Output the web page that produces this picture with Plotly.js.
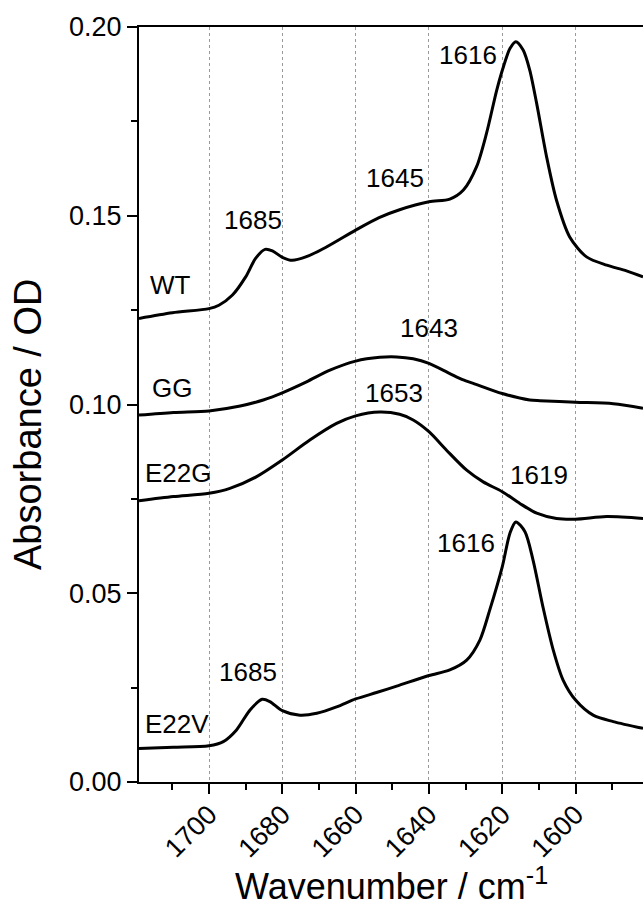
<!DOCTYPE html>
<html>
<head>
<meta charset="utf-8">
<script src="https://cdn.plot.ly/plotly-3.0.1.min.js"></script>
<style>html,body{margin:0;padding:0;background:#fff;}#chart{width:643px;height:906px;}</style>
</head>
<body>
<div id="chart"></div>
<script>
// Wavenumber (cm^-1) and absorbance (OD)
var wtX = [1719.1, 1710, 1700, 1697.3, 1693.6, 1690, 1687.3, 1684.7, 1682.7, 1680, 1677.3, 1673.6, 1668.2, 1660, 1653.6, 1648, 1640, 1634.3, 1630.6, 1627, 1624.3, 1621.5, 1619.7, 1617.9, 1616.3, 1614.3, 1612.5, 1610.6, 1607.9, 1605.2, 1601.6, 1597, 1591.5, 1586.1, 1581.6];
var wtY = [0.1228, 0.1243, 0.1254, 0.1263, 0.1290, 0.1338, 0.1387, 0.1411, 0.1407, 0.1390, 0.1382, 0.1391, 0.1416, 0.1462, 0.1495, 0.1516, 0.1537, 0.1544, 0.1568, 0.1630, 0.1718, 0.1833, 0.1894, 0.1943, 0.1961, 0.1939, 0.1886, 0.1797, 0.1656, 0.1541, 0.1444, 0.1391, 0.1369, 0.1354, 0.1338];

var ggX = [1719.1, 1709.7, 1700, 1691.5, 1685.2, 1680, 1673.4, 1667, 1660, 1653.4, 1648.8, 1644.3, 1640, 1634.3, 1630.6, 1627.9, 1620, 1612.5, 1609.7, 1600, 1589.7, 1581.6];
var ggY = [0.0972, 0.0979, 0.0983, 0.0996, 0.1012, 0.1031, 0.1060, 0.1091, 0.1115, 0.1125, 0.1126, 0.1121, 0.1109, 0.1082, 0.1065, 0.1056, 0.1029, 0.1012, 0.1010, 0.1006, 0.1002, 0.0990];

var e22gX = [1719.1, 1709.7, 1700, 1694.3, 1687, 1680, 1672.5, 1665.2, 1660, 1653.4, 1648, 1644.3, 1640, 1635.2, 1629.7, 1625.2, 1620, 1615.2, 1610.6, 1605.2, 1600, 1591.5, 1581.6];
var e22gY = [0.0745, 0.0756, 0.0765, 0.0778, 0.0809, 0.0853, 0.0906, 0.0950, 0.0970, 0.0980, 0.0974, 0.0959, 0.0928, 0.0879, 0.0826, 0.0795, 0.0769, 0.0738, 0.0712, 0.0698, 0.0696, 0.0703, 0.0698];

var e22vX = [1719.1, 1709.7, 1700, 1696.1, 1692.5, 1688.8, 1685.5, 1683.4, 1680, 1675.2, 1670.6, 1665.2, 1660, 1654.3, 1648.8, 1640, 1634.3, 1629.7, 1626.1, 1623.4, 1620, 1617.9, 1616.3, 1613.8, 1611.6, 1608.9, 1606.1, 1603.4, 1600, 1595.2, 1589.7, 1581.6];
var e22vY = [0.0089, 0.0092, 0.0096, 0.0107, 0.0138, 0.0191, 0.0219, 0.0213, 0.0189, 0.0177, 0.0182, 0.0199, 0.0220, 0.0237, 0.0254, 0.0282, 0.0297, 0.0323, 0.0376, 0.0456, 0.0570, 0.0659, 0.0689, 0.0663, 0.0588, 0.0464, 0.0350, 0.0270, 0.0217, 0.0177, 0.0160, 0.0142];

var xTickVals = [1700, 1680, 1660, 1640, 1620, 1600];
var yTickVals = [0.00, 0.05, 0.10, 0.15, 0.20];

// Labels: text, x (wavenumber), y (absorbance)
var labelText = ["WT", "1685", "1645", "1616", "GG", "1643", "E22G", "1653", "1619", "1616", "1685", "E22V"];
var labelX = [1710.5, 1688, 1649.3, 1629.4, 1710, 1640, 1708.2, 1649.4, 1610, 1629.9, 1689.5, 1708.6];
var labelY = [0.1316, 0.1488, 0.1601, 0.1927, 0.1043, 0.1202, 0.0818, 0.1030, 0.0813, 0.0633, 0.0292, 0.0154];

var FONT = "Liberation Sans, Arial, Helvetica, sans-serif";

function series(x, y) {
  return {x: x, y: y, type: "scatter", mode: "lines",
          line: {color: "#000", width: 3, shape: "spline", smoothing: 0.8},
          hoverinfo: "skip", showlegend: false};
}

var data = [series(wtX, wtY), series(ggX, ggY), series(e22gX, e22gY), series(e22vX, e22vY)];

var annotations = labelText.map(function (t, i) {
  return {text: t, x: labelX[i], y: labelY[i], xref: "x", yref: "y",
          showarrow: false, xanchor: "center", yanchor: "middle",
          font: {family: FONT, size: 26, color: "#000"}};
});

annotations.push({
  text: "Absorbance / OD", textangle: -90, xref: "paper", yref: "paper",
  x: (28 - 139) / 504, y: (782 - 425) / 755, xanchor: "center", yanchor: "middle",
  showarrow: false, font: {family: FONT, size: 38, color: "#000"}
});
annotations.push({
  text: "Wavenumber / cm<sup>-1</sup>", xref: "paper", yref: "paper",
  x: 0.5, y: (782 - 884) / 755, xanchor: "center", yanchor: "middle",
  showarrow: false, font: {family: FONT, size: 36, color: "#000"}
});

var layout = {
  width: 643, height: 906,
  margin: {l: 139, r: 0, t: 27, b: 124, pad: 0},
  paper_bgcolor: "#fff", plot_bgcolor: "#fff",
  font: {family: FONT, color: "#000"},
  showlegend: false,
  xaxis: {
    range: [1719.1, 1581.6], tickmode: "array", tickvals: xTickVals,
    ticktext: xTickVals.map(String), tickangle: -45,
    ticks: "outside", ticklen: 10, tickwidth: 2, tickcolor: "#000",
    ticklabelstandoff: -6,
    tickfont: {family: FONT, size: 27, color: "#000"},
    showline: true, linecolor: "#000", linewidth: 2, mirror: true,
    showgrid: true, gridcolor: "#9a9a9a", gridwidth: 1, griddash: "3px,3px",
    minor: {tickmode: "array", tickvals: [1710, 1690, 1670, 1650, 1630, 1610, 1590],
            ticks: "outside", ticklen: 6, tickwidth: 2, tickcolor: "#000", showgrid: false},
    zeroline: false, fixedrange: true
  },
  yaxis: {
    range: [0, 0.2], tickmode: "array", tickvals: yTickVals,
    ticktext: yTickVals.map(function (v) { return v.toFixed(2); }),
    ticks: "outside", ticklen: 10, tickwidth: 2, tickcolor: "#000",
    tickfont: {family: FONT, size: 27, color: "#000"},
    showline: true, linecolor: "#000", linewidth: 2, mirror: false,
    showgrid: false, zeroline: false,
    minor: {tickmode: "array", tickvals: [0.025, 0.075, 0.125, 0.175],
            ticks: "outside", ticklen: 6, tickwidth: 2, tickcolor: "#000", showgrid: false},
    fixedrange: true
  },
  annotations: annotations
};

Plotly.newPlot("chart", data, layout, {displayModeBar: false, staticPlot: true});
</script>
</body>
</html>
